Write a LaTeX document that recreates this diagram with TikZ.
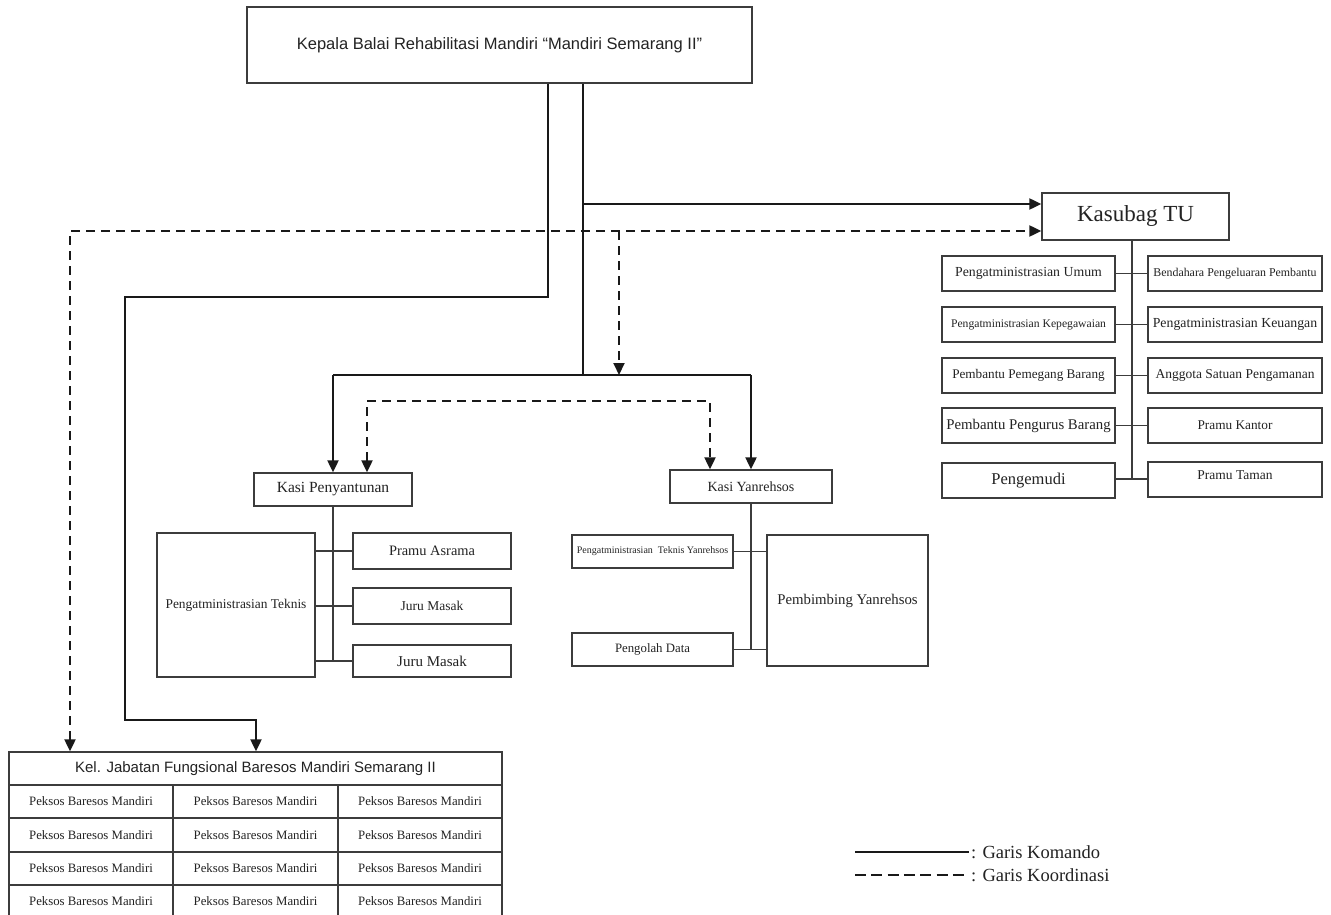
\documentclass[tikz,border=0pt]{standalone}
\usepackage{fontspec}
\setmainfont{Liberation Serif}
\newfontfamily\arialf{Liberation Sans}
\usetikzlibrary{arrows.meta}
\definecolor{lcol}{RGB}{25,25,25}
\definecolor{bcol}{RGB}{60,60,60}
\definecolor{tcol}{RGB}{35,35,35}
\tikzset{every picture/.style={x=1pt,y=-1pt,>={Triangle[length=12pt,width=11pt]}}}
\tikzset{unit/.style={draw=bcol,line width=1.3pt,inner sep=0pt,text=tcol}}
\tikzset{fsz/.style={font=\fontsize{#1}{#1}\selectfont}}
\tikzset{sfsz/.style={font=\arialf\fontsize{#1}{#1}\selectfont}}
\tikzset{cmd/.style={draw=lcol,line width=2pt}}
\tikzset{crd/.style={draw=lcol,line width=2pt,dash pattern=on 9pt off 6pt}}
\tikzset{link/.style={draw=bcol,line width=1.3pt}}

\begin{document}
\begin{tikzpicture}
\useasboundingbox [fill=white] (0,0) rectangle (1331,915);

\node [unit,line width=2pt,sfsz=16.5,minimum width=505pt,minimum height=76pt] (kepala) at (499.5,45) {Kepala Balai Rehabilitasi Mandiri “Mandiri Semarang II”};

\node [unit,fsz=23,minimum width=187pt,minimum height=47pt] (kasubag) at (1135.5,216.5) {Kasubag TU};

\node [unit,fsz=13.8,minimum width=173pt,minimum height=35pt] (umum) at (1028.5,273.5) {Pengatministrasian Umum};
\node [unit,fsz=11.65,minimum width=173pt,minimum height=35pt] (kepeg) at (1028.5,324.5) {Pengatministrasian Kepegawaian};
\node [unit,fsz=13.2,minimum width=173pt,minimum height=35pt] (pemegang) at (1028.5,375.5) {Pembantu Pemegang Barang};
\node [unit,fsz=14.8,minimum width=173pt,minimum height=35pt] (pengurus) at (1028.5,425.5) {Pembantu Pengurus Barang};
\node [unit,fsz=16.5,minimum width=173pt,minimum height=35pt] (pengemudi) at (1028.5,480.5) {Pengemudi};

\node [unit,fsz=11.9,minimum width=174pt,minimum height=35pt] (bendahara) at (1235,273.5) {Bendahara Pengeluaran Pembantu};
\node [unit,fsz=13.8,minimum width=174pt,minimum height=35pt] (keuangan) at (1235,324.5) {Pengatministrasian Keuangan};
\node [unit,fsz=13.5,minimum width=174pt,minimum height=35pt] (satpam) at (1235,375.5) {Anggota Satuan Pengamanan};
\node [unit,fsz=13.3,minimum width=174pt,minimum height=35pt] (kantor) at (1235,425.5) {Pramu Kantor};
\node [unit,fsz=13.5,minimum width=174pt,minimum height=35pt] (taman) at (1235,479.5) {\raisebox{9pt}{Pramu Taman}};

\coordinate (tuEnd) at (1132,479);
\draw [link] (kasubag.south -| tuEnd) -- (tuEnd);
\draw [link] (umum.east) -- (bendahara.west);
\draw [link] (kepeg.east) -- (keuangan.west);
\draw [link] (pemegang.east) -- (satpam.west);
\draw [link] (pengurus.east) -- (kantor.west);
\draw [link] (pengemudi.east |- tuEnd) -- (taman.west |- tuEnd);

\node [unit,fsz=15.5,minimum width=158pt,minimum height=33pt] (penyantunan) at (333,489.5) {Kasi Penyantunan};
\node [unit,fsz=13.4,minimum width=158pt,minimum height=144pt] (teknis) at (236,605) {Pengatministrasian Teknis};
\node [unit,fsz=14.4,minimum width=158pt,minimum height=36pt] (asrama) at (432,551) {Pramu Asrama};
\node [unit,fsz=13.5,minimum width=158pt,minimum height=36pt] (masak1) at (432,606) {Juru Masak};
\node [unit,fsz=15,minimum width=158pt,minimum height=32pt] (masak2) at (432,661) {Juru Masak};

\coordinate (pyEnd) at (333,661);
\draw [link] (penyantunan.south) -- (pyEnd);
\draw [link] (teknis.east |- asrama.west) -- (asrama.west);
\draw [link] (teknis.east |- masak1.west) -- (masak1.west);
\draw [link] (teknis.east |- masak2.west) -- (masak2.west);

\node [unit,fsz=14,minimum width=162pt,minimum height=33pt] (yanrehsos) at (751,486.5) {Kasi Yanrehsos};
\node [unit,fsz=10,minimum width=161pt,minimum height=33pt] (tekyan) at (652.5,551.5) {Pengatministrasian\ \ Teknis Yanrehsos};
\node [unit,fsz=12.8,minimum width=161pt,minimum height=33pt] (pengolah) at (652.5,649.5) {Pengolah Data};
\node [unit,fsz=14.8,minimum width=161pt,minimum height=131pt] (pembimbing) at (847.5,600.5) {Pembimbing Yanrehsos};

\coordinate (yrEnd) at (751,650);
\draw [link] (yanrehsos.south) -- (yrEnd);
\draw [link] (tekyan.east) -- (pembimbing.west |- tekyan.east);
\draw [link] (pengolah.east) -- (pembimbing.west |- pengolah.east);

\node [unit,sfsz=15,minimum width=493pt,minimum height=33pt] (jabatan) at (255.5,768.5) {Kel. Jabatan Fungsional Baresos Mandiri Semarang II};
\node [unit,fsz=12.8,minimum width=164pt,minimum height=33pt] (c11) at (91,801.5) {Peksos Baresos Mandiri};
\node [unit,fsz=12.8,minimum width=165pt,minimum height=33pt] (c12) at (255.5,801.5) {Peksos Baresos Mandiri};
\node [unit,fsz=12.8,minimum width=164pt,minimum height=33pt] (c13) at (420,801.5) {Peksos Baresos Mandiri};
\node [unit,fsz=12.8,minimum width=164pt,minimum height=34pt] (c21) at (91,835) {Peksos Baresos Mandiri};
\node [unit,fsz=12.8,minimum width=165pt,minimum height=34pt] (c22) at (255.5,835) {Peksos Baresos Mandiri};
\node [unit,fsz=12.8,minimum width=164pt,minimum height=34pt] (c23) at (420,835) {Peksos Baresos Mandiri};
\node [unit,fsz=12.8,minimum width=164pt,minimum height=33pt] (c31) at (91,868.5) {Peksos Baresos Mandiri};
\node [unit,fsz=12.8,minimum width=165pt,minimum height=33pt] (c32) at (255.5,868.5) {Peksos Baresos Mandiri};
\node [unit,fsz=12.8,minimum width=164pt,minimum height=33pt] (c33) at (420,868.5) {Peksos Baresos Mandiri};
\node [unit,fsz=12.8,minimum width=164pt,minimum height=33pt] (c41) at (91,901.5) {Peksos Baresos Mandiri};
\node [unit,fsz=12.8,minimum width=165pt,minimum height=33pt] (c42) at (255.5,901.5) {Peksos Baresos Mandiri};
\node [unit,fsz=12.8,minimum width=164pt,minimum height=33pt] (c43) at (420,901.5) {Peksos Baresos Mandiri};

% garis komando
\coordinate (a1) at (548,297);
\coordinate (a2) at (125,297);
\coordinate (a3) at (125,720);
\coordinate (a4) at (256,720);
\draw [cmd,->] (kepala.south -| a1) -- (a1) -- (a2) -- (a3) -- (a4) -- (jabatan.north -| a4);

\coordinate (b1) at (583,375);
\coordinate (b2) at (583,204);
\draw [cmd] (kepala.south -| b1) -- (b1);
\draw [cmd,->] (b2) -- (b2 -| kasubag.west);
\draw [cmd] (penyantunan.north |- b1) -- (yanrehsos.north |- b1);
\draw [cmd,->] (penyantunan.north |- b1) -- (penyantunan.north);
\draw [cmd,->] (yanrehsos.north |- b1) -- (yanrehsos.north);

% garis koordinasi
\coordinate (d1) at (70,231);
\coordinate (d2) at (619,231);
\draw [crd,<->] (jabatan.north -| d1) -- (d1) -- (d1 -| kasubag.west);
\draw [crd,->] (d2) -- (d2 |- b1);

\coordinate (e1) at (367,401);
\coordinate (e2) at (710,401);
\draw [crd,<->] (e1 |- penyantunan.north) -- (e1) -- (e2) -- (e2 |- yanrehsos.north);

% keterangan
\node [anchor=west,fsz=18.5,text=tcol,inner sep=2pt] (kmd) at (969,852) {: Garis Komando};
\node [anchor=west,fsz=18.5,text=tcol,inner sep=2pt] (krd) at (969,875) {: Garis Koordinasi};
\coordinate (kmd0) at (855,852);
\coordinate (krd0) at (855,875);
\draw [cmd,line width=1.6pt] (kmd0) -- (kmd.west);
\draw [crd,dash pattern=on 11pt off 5.3pt] (krd0) -- (krd.west);
\end{tikzpicture}
\end{document}
